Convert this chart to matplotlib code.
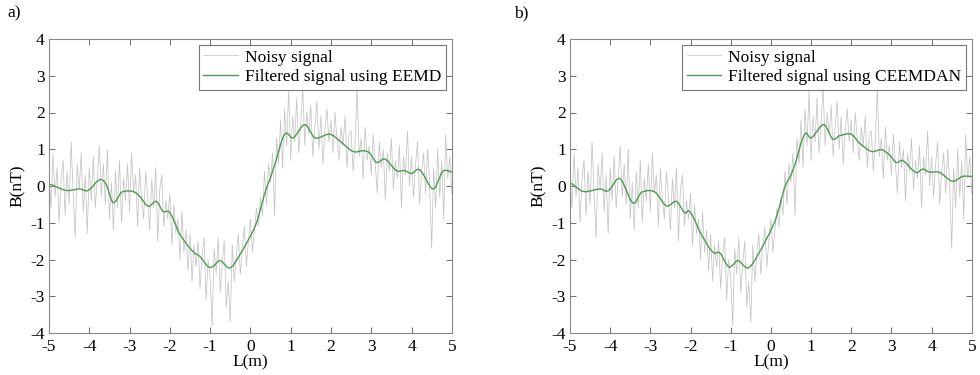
import numpy as np
import matplotlib
matplotlib.use("Agg")
import matplotlib.pyplot as plt

plt.rcParams['font.family'] = ['Liberation Serif', 'DejaVu Serif']
plt.rcParams['axes.unicode_minus'] = False

# Noisy signal sampled every 0.05 m from -5 to 5
noisy_x = np.linspace(-5, 5, 201)
noisy_y = [
    0.3, -0.6, 0.9, -0.3, 0.5, -1.0, 0.2, 0.7, -0.8, 0.4,
    -0.5, 1.2, -0.2, -1.4, 0.6, -0.1, 0.9, -0.7, 0.3, -1.3,
    0.5, -0.4, 0.8, -0.6, 0.2, 1.1, -0.3, 0.6, -0.5, 1.0,
    -0.9, 0.1, -1.2, 0.4, -0.6, 0.7, -1.0, 0.2, -0.4, 0.6,
    -0.7, 0.9, -0.2, 0.3, -1.1, 0.5, -0.4, -0.9, 0.4, -0.3,
    -1.2, 0.2, -0.6, 0.5, -1.5, -0.1, 0.3, -1.1, -0.4, -0.9,
    -0.2, -1.6, -0.5, -1.3, -0.9, -2.0, -0.7, -1.8, -1.2, -2.3,
    -1.3, -2.6, -1.6, -2.2, -1.5, -2.8, -1.9, -1.4, -3.1, -2.0,
    -2.5, -3.8, -1.7, -2.4, -1.4, -2.9, -2.1, -1.5, -3.3, -2.6,
    -3.7, -1.6, -2.6, -1.9, -1.3, -2.4, -1.7, -1.1, -2.2, -1.5,
    -0.9, -1.8, -1.2, -0.6, -1.1, -0.3, -0.8, 0.4, -0.5, 0.6,
    0.1, 0.9, -0.8, 1.3, 0.6, 1.8, 0.5, 2.1, 1.1, 2.6,
    0.7, 1.9, 1.2, 2.4, 0.9, 1.7, 2.7, 1.1, 2.0, 1.4,
    2.2, 0.8, 1.6, 2.3, 1.0, 1.9, 0.6, 1.5, 2.1, 1.2,
    1.8, 0.9, 2.0, 1.3, 0.7, 1.6, 1.1, 1.9, 0.5, 1.4,
    1.5, 0.4, 1.2, 2.7, 0.8, 1.3, 0.2, 1.6, 0.7, 1.1,
    0.3, 1.4, 0.6, -0.2, 1.2, 0.5, 1.0, -0.4, 0.9, 0.4,
    1.3, -0.1, 0.7, 0.2, 1.1, -0.6, 0.8, 0.3, 1.5, 0.0,
    0.8, -0.3, 0.6, 1.2, -0.5, 0.4, 0.9, -0.2, 1.0, 0.1,
    -1.7, 0.5, -0.6, 1.0, -0.3, 0.7, -0.9, 1.4, 0.2, 0.8,
    -0.2,
]

# Filtered signal (EEMD)
eemd_x = [-5.0, -4.57, -4.24, -4.03, -3.74, -3.58, -3.41, -3.2, -2.91, -2.75,
          -2.54, -2.33, -2.17, -2.0, -1.75, -1.42, -1.26, -1.05, -0.93, -0.76,
          -0.51, -0.26, -0.02, 0.15, 0.36, 0.56, 0.85, 1.06, 1.35, 1.6,
          1.97, 2.22, 2.55, 2.8, 2.96, 3.13, 3.34, 3.63, 3.83, 4.0,
          4.2, 4.54, 4.78, 5.0]
eemd_y = [0.05, -0.12, -0.08, -0.12, 0.17, 0.04, -0.45, -0.17, -0.15, -0.28,
          -0.55, -0.42, -0.69, -0.73, -1.32, -1.78, -1.91, -2.19, -2.19, -2.03,
          -2.23, -1.87, -1.41, -1.0, -0.19, 0.44, 1.40, 1.31, 1.67, 1.31,
          1.41, 1.22, 0.94, 0.96, 0.90, 0.64, 0.73, 0.42, 0.42, 0.34,
          0.44, -0.08, 0.40, 0.38]

# Filtered signal (CEEMDAN)
ceemdan_x = [-5.0, -4.67, -4.25, -4.05, -3.76, -3.43, -3.22, -2.89, -2.6, -2.35,
             -2.14, -2.02, -1.73, -1.44, -1.27, -1.06, -0.94, -0.82, -0.57, -0.32,
             -0.03, 0.13, 0.34, 0.55, 0.84, 1.0, 1.32, 1.54, 1.71, 2.0,
             2.2, 2.5, 2.75, 2.95, 3.12, 3.28, 3.61, 3.78, 3.94, 4.19,
             4.52, 4.77, 5.0]
ceemdan_y = [0.08, -0.15, -0.08, -0.13, 0.2, -0.46, -0.17, -0.16, -0.54, -0.42,
             -0.73, -0.70, -1.32, -1.80, -1.82, -2.19, -2.14, -2.03, -2.23, -1.87,
             -1.28, -0.87, -0.05, 0.44, 1.40, 1.31, 1.67, 1.28, 1.37, 1.41,
             1.17, 0.94, 0.99, 0.85, 0.64, 0.69, 0.37, 0.46, 0.38, 0.37,
             0.13, 0.26, 0.26]

xticks = [-5, -4, -3, -2, -1, 0, 1, 2, 3, 4, 5]
yticks = [-4, -3, -2, -1, 0, 1, 2, 3, 4]

fig = plt.figure(figsize=(9.8, 3.75), dpi=100)
panels = [
    ([0.050, 0.112, 0.411, 0.784], eemd_x, eemd_y, 'Filtered signal using EEMD', 'a)', 0.008),
    ([0.5816, 0.112, 0.410, 0.784], ceemdan_x, ceemdan_y, 'Filtered signal using CEEMDAN', 'b)', 0.525),
]

def smooth(xs, ys):
    xs = np.asarray(xs); ys = np.asarray(ys)
    xd = np.linspace(xs[0], xs[-1], 800)
    out_x, out_y = [], []
    n = len(xs)
    for i in range(n - 1):
        p0 = ys[max(i - 1, 0)]; p1 = ys[i]; p2 = ys[i + 1]; p3 = ys[min(i + 2, n - 1)]
        x1, x2 = xs[i], xs[i + 1]
        sel = xd[(xd >= x1) & ((xd < x2) | (i == n - 2))]
        t = (sel - x1) / (x2 - x1)
        seg = 0.5 * ((2 * p1) + (-p0 + p2) * t + (2 * p0 - 5 * p1 + 4 * p2 - p3) * t ** 2
                     + (-p0 + 3 * p1 - 3 * p2 + p3) * t ** 3)
        out_x.append(sel); out_y.append(seg)
    return np.concatenate(out_x), np.concatenate(out_y)

for rect, fx, fy, lbl, tag, tx in panels:
    ax = fig.add_axes(rect)
    ax.plot(noisy_x, noisy_y, color='#c4c4c4', lw=0.55, label='Noisy signal')
    sx, sy = smooth(fx, fy)
    ax.plot(sx, sy, color='#4f9a4f', lw=1.0, label=lbl)
    ax.set_xlim(-5, 5)
    ax.set_ylim(-4, 4)
    ax.set_xticks(xticks)
    ax.set_yticks(yticks)
    ax.tick_params(direction='in', length=4, width=0.6, color='#555555',
                   top=True, right=True, labelsize=12.5)
    ax.tick_params(axis='x', pad=4)
    ax.tick_params(axis='y', pad=3)
    for s in ax.spines.values():
        s.set_color('#888888')
        s.set_linewidth(0.8)
    ax.set_xlabel('L(m)', fontsize=12.5, labelpad=0)
    ax.set_ylabel('B(nT)', fontsize=12.5, labelpad=3)
    leg = ax.legend(loc='upper right', fontsize=12.5, frameon=True, fancybox=False,
                    borderaxespad=0.35, handlelength=2.0, handletextpad=0.4,
                    borderpad=0.25, labelspacing=0.2)
    leg.get_frame().set_edgecolor('#555555')
    leg.get_frame().set_linewidth(0.8)
    fig.text(tx, 0.965, tag, fontsize=12.5, ha='left', va='center')

fig.savefig('out.png', dpi=100)
